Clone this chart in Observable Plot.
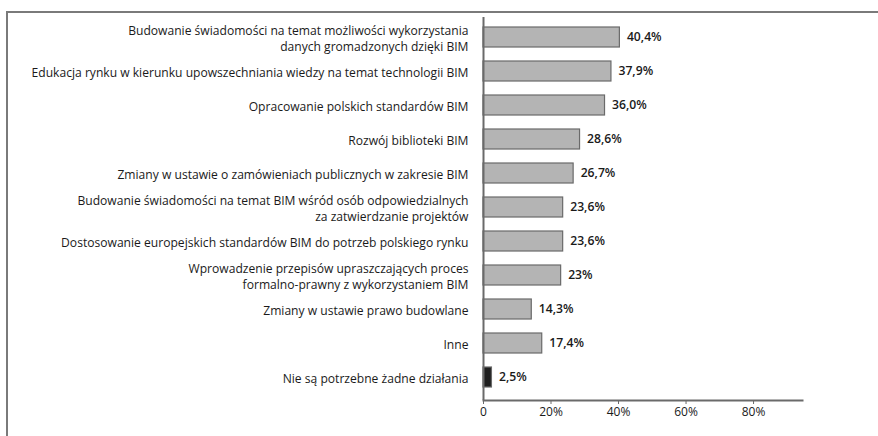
<!DOCTYPE html>
<html>
<head>
<meta charset="utf-8">
<script src="https://cdn.jsdelivr.net/npm/d3@7"></script>
<script src="https://cdn.jsdelivr.net/npm/@observablehq/plot@0.6"></script>
<style>
  html, body { margin: 0; padding: 0; background: #fff; }
  #wrap { position: relative; width: 878px; height: 436px; overflow: hidden; }
  #frame { position: absolute; top: 11px; left: 6px; right: -4px; bottom: -4px;
           border-top: 2px solid #7a7a7a; border-left: 2px solid #7a7a7a; pointer-events: none; }
  #chart { position: absolute; top: 0; left: 0; }
</style>
</head>
<body>
<div id="wrap"><div id="chart"></div><div id="frame"></div></div>
<script>
const categories = [
  "Budowanie świadomości na temat możliwości wykorzystania\ndanych gromadzonych dzięki BIM",
  "Edukacja rynku w kierunku upowszechniania wiedzy na temat technologii BIM",
  "Opracowanie polskich standardów BIM",
  "Rozwój biblioteki BIM",
  "Zmiany w ustawie o zamówieniach publicznych w zakresie BIM",
  "Budowanie świadomości na temat BIM wśród osób odpowiedzialnych\nza zatwierdzanie projektów",
  "Dostosowanie europejskich standardów BIM do potrzeb polskiego rynku",
  "Wprowadzenie przepisów upraszczających proces\nformalno-prawny z wykorzystaniem BIM",
  "Zmiany w ustawie prawo budowlane",
  "Inne",
  "Nie są potrzebne żadne działania"
];
const values = [40.4, 37.9, 36.0, 28.6, 26.7, 23.6, 23.6, 23, 14.3, 17.4, 2.5];
const valueLabels = ["40,4%", "37,9%", "36,0%", "28,6%", "26,7%", "23,6%", "23,6%", "23%", "14,3%", "17,4%", "2,5%"];
const highlight = ["Nie są potrzebne żadne działania"];
const xTicks = [0, 20, 40, 60, 80];

const data = categories.map((c, i) => ({category: c, value: values[i], label: valueLabels[i]}));

const chart = Plot.plot({
  width: 878,
  height: 436,
  marginLeft: 483,
  marginRight: 76,
  marginTop: 17,
  marginBottom: 36,
  style: {fontFamily: "'Open Sans', sans-serif", fontSize: "12px", color: "#1a1a1a", background: "transparent"},
  x: {domain: [0, 94.5], ticks: xTicks, tickFormat: d => d === 0 ? "0" : d + "%"},
  y: {domain: categories, paddingInner: 0.4, paddingOuter: 0.2, insetBottom: 3},
  marks: [
    Plot.barX(data, {
      x: "value", y: "category",
      fill: d => highlight.includes(d.category) ? "#1e1e1e" : "#b4b4b4",
      stroke: "#6a6a6a", strokeWidth: 1.2
    }),
    Plot.text(data, {
      x: "value", y: "category", text: "label",
      dx: 7, textAnchor: "start", fill: "#1a1a1a", fontWeight: 600, fontSize: 12.2
    }),
    Plot.axisY({tickSize: 0, tickPadding: 15, label: null, lineHeight: 1.36, fontSize: 12.1, fill: "#1a1a1a"}),
    Plot.axisX({ticks: xTicks, tickFormat: d => d === 0 ? "0" : d + "%", tickSize: 4, tickPadding: 3, label: null, stroke: "#6a6a6a", fontSize: 12, fill: "#1a1a1a"}),
    Plot.frame({anchor: "bottom", stroke: "#6a6a6a", strokeWidth: 2}),
    Plot.ruleX([0], {stroke: "#6a6a6a", strokeWidth: 2})
  ]
});
document.getElementById("chart").appendChild(chart);
</script>
</body>
</html>
